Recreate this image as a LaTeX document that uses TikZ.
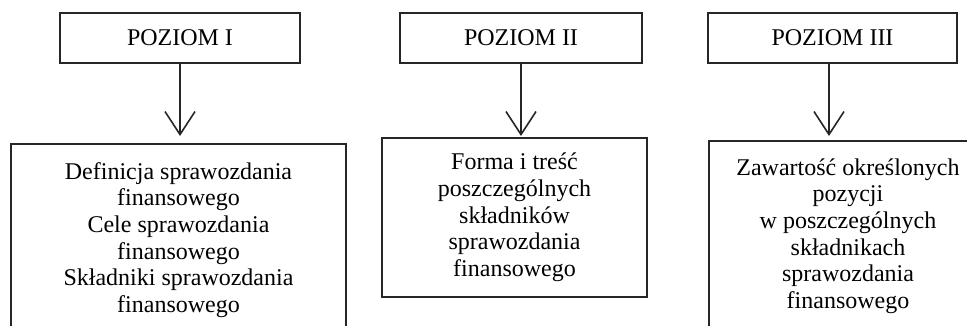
\documentclass[tikz,border=0pt]{standalone}
\usepackage{fontspec}
\setmainfont{Liberation Serif}
\usetikzlibrary{arrows.meta}
\begin{document}
\begin{tikzpicture}[x=1pt,y=-1pt,
  lvlbox/.style={draw=black!85,line width=1.6pt,rectangle,minimum height=50pt,inner sep=0pt,
     font=\fontsize{24}{26.7}\selectfont},
  contbox/.style={draw=black!85,line width=1.6pt,rectangle,inner sep=0pt,align=center,
     font=\fontsize{24}{26.7}\selectfont},
  downarrow/.style={line width=1.6pt,draw=black!85,-{Straight Barb[length=23pt,width=30pt,line width=1.6pt]}}]
\useasboundingbox (0,0) rectangle (967,326);
\clip (0,0) rectangle (967,326);
\node[lvlbox,minimum width=240pt] (p1) at (180,38) {POZIOM I};
\node[lvlbox,minimum width=242pt] (p2) at (521,38) {POZIOM II};
\node[lvlbox,minimum width=249pt] (p3) at (832.5,38) {POZIOM III};
\coordinate (t1) at (180,136);
\coordinate (t2) at (521,136);
\coordinate (t3) at (829,136);
\node[contbox,minimum width=335pt,minimum height=192pt] (b1) at (178.5,240)
  {Definicja sprawozdania\\finansowego\\Cele sprawozdania\\finansowego\\Składniki sprawozdania\\finansowego};
\node[contbox,minimum width=265pt,minimum height=159pt] (b2) at (514.5,217.5)
  {Forma i treść\\poszczególnych\\składników\\sprawozdania\\finansowego};
\node[contbox,minimum width=278pt,minimum height=190pt] (b3) at (848,236)
  {Zawartość określonych\\pozycji\\w poszczególnych\\składnikach\\sprawozdania\\finansowego};
\draw[downarrow] (p1.south) -- (t1);
\draw[downarrow] (p2.south) -- (t2);
\draw[downarrow] (p3.south -| t3) -- (t3);
\end{tikzpicture}
\end{document}
